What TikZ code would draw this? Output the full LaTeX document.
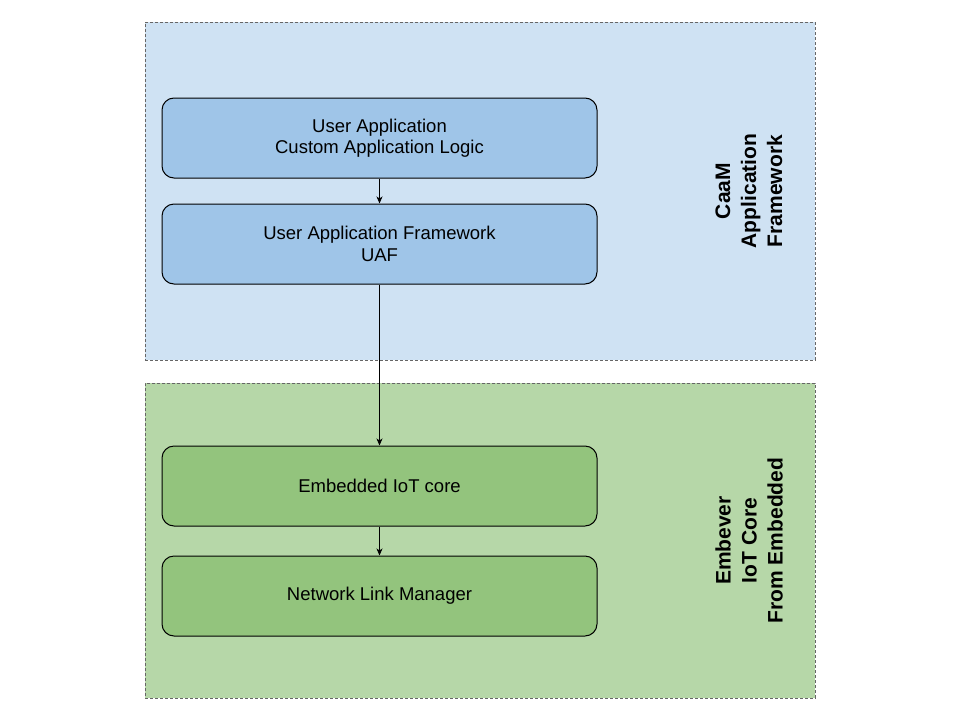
\documentclass[tikz,border=0pt]{standalone}
\usepackage{fontspec}
\setmainfont{Liberation Sans}
\usetikzlibrary{arrows.meta}
\definecolor{blueBg}{HTML}{CFE2F3}
\definecolor{blueBox}{HTML}{9FC5E8}
\definecolor{greenBg}{HTML}{B6D7A8}
\definecolor{greenBox}{HTML}{93C47D}
\definecolor{dashGray}{HTML}{666666}
\begin{document}
\begin{tikzpicture}[x=1pt,y=1pt,
  region/.style={draw=dashGray, line width=1pt, dash pattern=on 3pt off 2pt, anchor=north west, minimum width=670pt, inner sep=0pt, outer sep=0pt},
  box/.style={draw=black, line width=1pt, rounded corners=12pt, minimum width=435pt, minimum height=80pt, align=center, font=\fontsize{18.5}{21.5}\selectfont, inner sep=0pt},
  lab/.style={rotate=90, align=center, font=\bfseries\fontsize{21}{26}\selectfont},
  conn/.style={draw=black, line width=1pt, -{Stealth[length=7pt,width=6pt,inset=2pt]}}]
\useasboundingbox (0,0) rectangle (960,-720);
\fill[white] (0,0) rectangle (960,-720);
\node[region, fill=blueBg, minimum height=338pt] (caam) at (145,-22) {};
\node[region, fill=greenBg, minimum height=315pt] (emb) at (145,-383) {};
\node[box, fill=blueBox] (ua) at (379.5,-138) {User Application\\Custom Application Logic};
\node[box, fill=blueBox] (uaf) at (379.5,-244) {User Application Framework\\UAF};
\node[box, fill=greenBox] (core) at (379.5,-486) {Embedded IoT core};
\node[box, fill=greenBox] (nlm) at (379.5,-596) {Network Link Manager};
\node[lab] (caamlab) at (749,-191) {CaaM\\Application\\Framework};
\node[lab] (emblab) at (749,-540.5) {Embever\\IoT Core\\From Embedded};
\draw[conn] (ua) -- (uaf);
\draw[conn] (uaf) -- (core);
\draw[conn] (core) -- (nlm);
\end{tikzpicture}
\end{document}
